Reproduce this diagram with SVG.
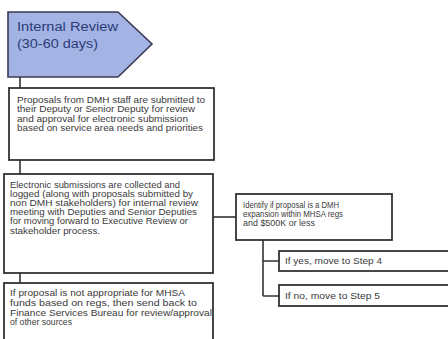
<svg xmlns="http://www.w3.org/2000/svg" width="448" height="339" viewBox="0 0 448 339">
<style>
.box{fill:#ffffff;stroke:#333333;stroke-width:1.8}
.t{font-family:"Liberation Sans",Arial,sans-serif;font-size:8.2px;fill:#3a3a3a}
.h{font-family:"Liberation Sans",Arial,sans-serif;font-size:12px;fill:#2c3c78}
.c{fill:none;stroke:#333333;stroke-width:1.6}
</style>
<rect width="448" height="339" fill="#ffffff"/>
<g id="connectors">
<path class="c" d="M20 77V88"/>
<path class="c" d="M20 160V174"/>
<path class="c" d="M20 273V283"/>
<path class="c" d="M213 217H236"/>
<path class="c" d="M263 240V296M263 261H279M263 296H279"/>
</g>
<g id="internal-review">
<path d="M8 12H118L152 44L118 77H8Z" fill="#a3b3e3" stroke="#3a3a55" stroke-width="1.6"/>
<text class="h" x="17" y="31" textLength="101" lengthAdjust="spacingAndGlyphs">Internal Review</text>
<text class="h" x="17" y="48" textLength="81" lengthAdjust="spacingAndGlyphs">(30-60 days)</text>
</g>
<g id="proposals">
<rect class="box" x="9" y="88" width="205" height="72"/>
<text class="t" x="17" y="103" textLength="188" lengthAdjust="spacingAndGlyphs">Proposals from DMH staff are submitted to</text>
<text class="t" x="17" y="112" textLength="178" lengthAdjust="spacingAndGlyphs">their Deputy or Senior Deputy for review</text>
<text class="t" x="17" y="121.5" textLength="171" lengthAdjust="spacingAndGlyphs">and approval for electronic submission</text>
<text class="t" x="17" y="131" textLength="186" lengthAdjust="spacingAndGlyphs">based on service area needs and priorities</text>
</g>
<g id="electronic">
<rect class="box" x="4" y="174" width="209" height="99"/>
<text class="t" x="10" y="188" textLength="170" lengthAdjust="spacingAndGlyphs">Electronic submissions are collected and</text>
<text class="t" x="10" y="197" textLength="183" lengthAdjust="spacingAndGlyphs">logged (along with proposals submitted by</text>
<text class="t" x="10" y="206" textLength="188" lengthAdjust="spacingAndGlyphs">non DMH stakeholders) for internal review</text>
<text class="t" x="10" y="215" textLength="187" lengthAdjust="spacingAndGlyphs">meeting with Deputies and Senior Deputies</text>
<text class="t" x="10" y="224" textLength="178" lengthAdjust="spacingAndGlyphs">for moving forward to Executive Review or</text>
<text class="t" x="10" y="234" textLength="90" lengthAdjust="spacingAndGlyphs">stakeholder process.</text>
</g>
<g id="identify">
<rect class="box" x="236" y="194" width="156" height="46"/>
<text class="t" x="243" y="208" textLength="96" lengthAdjust="spacingAndGlyphs">Identify if proposal is a DMH</text>
<text class="t" x="243" y="217" textLength="100" lengthAdjust="spacingAndGlyphs">expansion within MHSA regs</text>
<text class="t" x="243" y="226" textLength="72" lengthAdjust="spacingAndGlyphs">and $500K or less</text>
</g>
<g id="if-yes">
<rect class="box" x="279" y="251" width="180" height="20"/>
<text class="t" x="285" y="264" textLength="97" lengthAdjust="spacingAndGlyphs">If yes, move to Step 4</text>
</g>
<g id="if-no">
<rect class="box" x="279" y="285" width="180" height="21"/>
<text class="t" x="285" y="298.5" textLength="95" lengthAdjust="spacingAndGlyphs">If no, move to Step 5</text>
</g>
<g id="not-appropriate">
<rect class="box" x="4" y="283" width="209" height="70"/>
<text class="t" x="10" y="296" textLength="175" lengthAdjust="spacingAndGlyphs">If proposal is not appropriate for MHSA</text>
<text class="t" x="10" y="306" textLength="187" lengthAdjust="spacingAndGlyphs">funds based on regs, then send back to</text>
<text class="t" x="10" y="315.5" textLength="202" lengthAdjust="spacingAndGlyphs">Finance Services Bureau for review/approval</text>
<text class="t" x="10" y="325" textLength="62" lengthAdjust="spacingAndGlyphs">of other sources</text>
</g>
</svg>
